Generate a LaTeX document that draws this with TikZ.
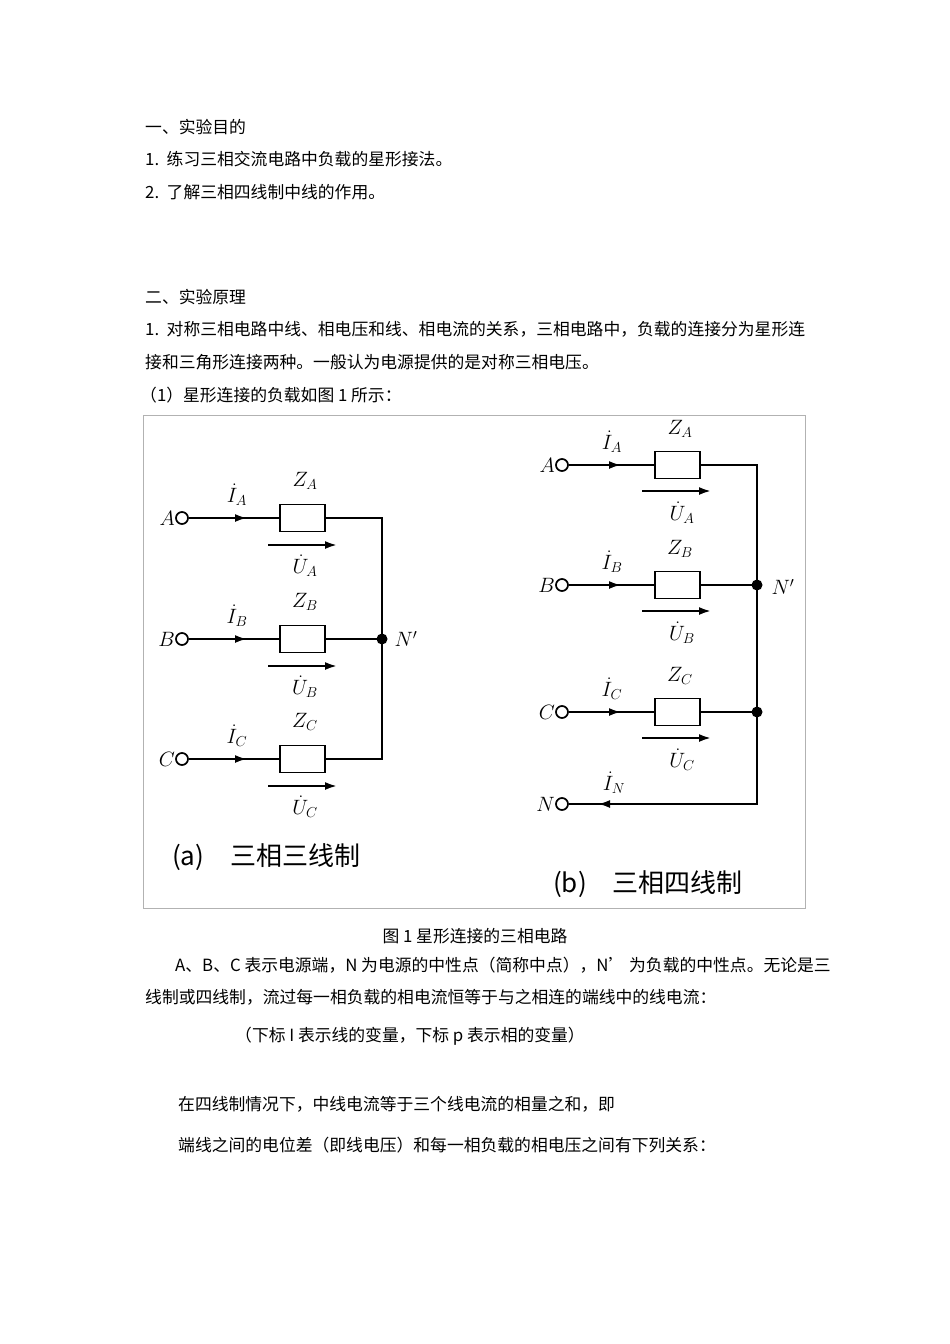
\documentclass[tikz,border=0pt]{standalone}
\usepackage{fontspec}
\setmainfont{Noto Sans CJK SC}
\usepackage{amsmath}
\usetikzlibrary{arrows.meta}
\begin{document}
\begin{tikzpicture}[x=1pt,y=-1pt,
  txt/.style={anchor=west,inner sep=0,font=\fontsize{16.8}{20}\selectfont},
  wire/.style={line width=2.1pt},
  term/.style={circle,draw,line width=1.7pt,minimum size=12pt,inner sep=0,fill=white},
  res/.style={draw,line width=1.7pt,minimum width=45pt,minimum height=27pt,inner sep=0},
  junc/.style={circle,fill,minimum size=11pt,inner sep=0},
  lab/.style={inner sep=0,font=\fontsize{20}{24}\selectfont},
  cur/.style={-{Latex[length=12pt,width=8pt]},line width=2.1pt},
  figcap/.style={anchor=west,inner sep=0,font=\fontsize{26}{30}\selectfont}]
\useasboundingbox (0,0) rectangle (950,1344);
\fill[white] (0,0) rectangle (950,1344);
\node[txt] (t1) at (145,127) {一、实验目的};
\node[txt] (t2) at (145,159) {1.\ \ 练习三相交流电路中负载的星形接法。};
\node[txt] (t3) at (145,192) {2.\ \ 了解三相四线制中线的作用。};
\node[txt] (t4) at (145,297) {二、实验原理};
\node[txt] (t5) at (145,329) {1.\ \ 对称三相电路中线、相电压和线、相电流的关系，三相电路中，负载的连接分为星形连};
\node[txt] (t6) at (145,362) {接和三角形连接两种。一般认为电源提供的是对称三相电压。};
\node[txt] (t7) at (140,395) {（1）星形连接的负载如图 1 所示：};
\draw[gray!60,line width=0.8pt] (143,415) rectangle (805,908);
\node[txt,anchor=center] (cap1) at (475,936) {图 1 星形连接的三相电路};
\node[txt] (t8) at (175,965) {A、B、C 表示电源端，N 为电源的中性点（简称中点），N’ 为负载的中性点。无论是三};
\node[txt] (t9) at (145,997) {线制或四线制，流过每一相负载的相电流恒等于与之相连的端线中的线电流：};
\node[txt] (t10) at (235,1036) {（下标 I 表示线的变量，下标 p 表示相的变量）};
\node[txt] (t11) at (178,1104) {在四线制情况下，中线电流等于三个线电流的相量之和，即};
\node[txt] (t12) at (178,1145) {端线之间的电位差（即线电压）和每一相负载的相电压之间有下列关系：};

% ---------- (a)
\foreach \n/\y in {A/518,B/639,C/759}{
  \node[term] (a\n) at (182,\y) {};
  \node[lab,anchor=east] (la\n) at (175,\y) {$\n$};
  \node[res] (ra\n) at (302.5,\y) {};
  \coordinate (ea\n) at (382,\y);
  \draw[wire] (a\n) -- (ra\n);
  \coordinate (ia\n) at (247,\y);
  \draw[cur] (a\n) -- (ia\n);
  \node[lab] (za\n) at (305,\y-37) {$Z_{\n}$};
  \node[lab] (iaL\n) at (237,\y-23) {$\dot I_{\n}$};
  \coordinate (ua1\n) at (268,\y+27);
  \coordinate (ua2\n) at (337,\y+27);
  \draw[cur] (ua1\n) -- (ua2\n);
  \node[lab] (uaL\n) at (305,\y+48) {$\dot U_{\n}$};
}
\draw[wire] (raA.east) -- (eaA) -- (eaC) -- (raC.east);
\draw[wire] (raB) -- (eaB);
\node[junc] (na) at (eaB) {};
\node[lab] (nal) at (406,639) {$N'$};
\node[figcap] (capa) at (172,857) {(a)\quad 三相三线制};

% ---------- (b)
\foreach \n/\y in {A/465,B/585,C/712}{
  \node[term] (b\n) at (562,\y) {};
  \node[lab,anchor=east] (lb\n) at (555,\y) {$\n$};
  \node[res] (rb\n) at (677.5,\y) {};
  \coordinate (eb\n) at (757,\y);
  \draw[wire] (b\n) -- (rb\n);
  \coordinate (ib\n) at (621,\y);
  \draw[cur] (b\n) -- (ib\n);
  \node[lab] (zb\n) at (680,\y-36) {$Z_{\n}$};
  \node[lab] (ibL\n) at (612,\y-23) {$\dot I_{\n}$};
  \coordinate (ub1\n) at (642,\y+26);
  \coordinate (ub2\n) at (711,\y+26);
  \draw[cur] (ub1\n) -- (ub2\n);
  \node[lab] (ubL\n) at (682,\y+48) {$\dot U_{\n}$};
}
\node[term] (bN) at (562,804) {};
\node[lab,anchor=east] (lbN) at (555,804) {$N$};
\coordinate (ebN) at (757,804);
\draw[wire] (rbA.east) -- (ebA) -- (ebN) -- (bN);
\draw[wire] (rbB) -- (ebB);
\draw[wire] (rbC) -- (ebC);
\coordinate (ibN1) at (640,804);
\coordinate (ibN2) at (598,804);
\draw[cur] (ibN1) -- (ibN2);
\node[lab] (ibLN) at (614,783) {$\dot I_{N}$};
\node[junc] (nb1) at (ebB) {};
\node[junc] (nb2) at (ebC) {};
\node[lab] (nbl) at (783,587) {$N'$};
\node[figcap] (capb) at (553,884) {(b)\quad 三相四线制};
\end{tikzpicture}
\end{document}
